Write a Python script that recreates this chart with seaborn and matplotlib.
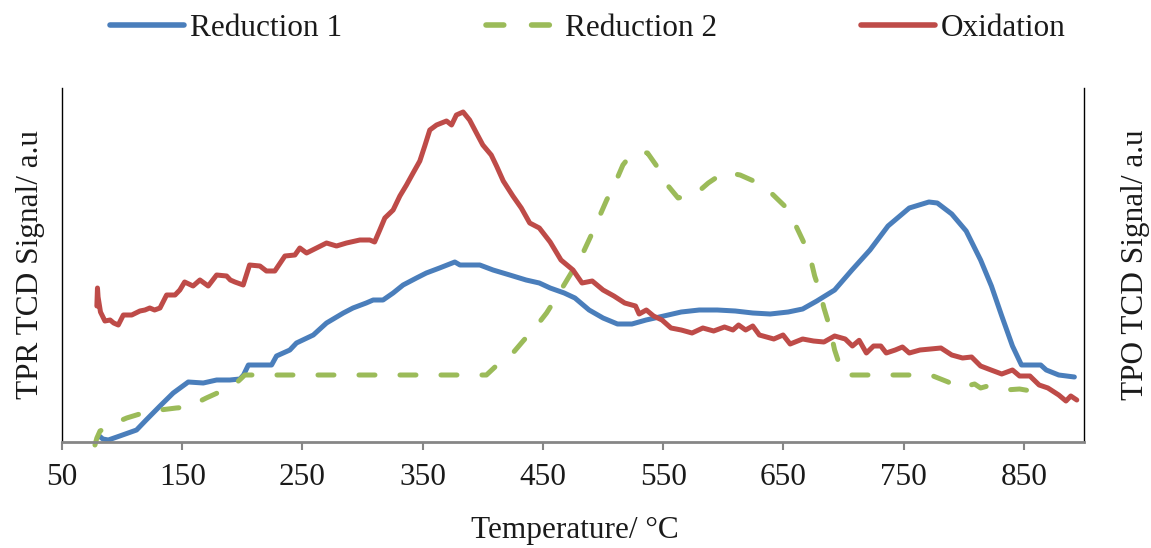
import matplotlib
matplotlib.use("Agg")
import matplotlib.pyplot as plt
import pandas as pd
import seaborn as sns

# Temperature (°C) and TCD signal (a.u.) for each run
red1_temp = [81, 84, 88.5, 98, 112, 120, 131.5, 142.5, 155, 167.5, 178.6, 189.6, 198, 201, 205,
             224.3, 228.4, 239.5, 245, 259, 270, 284, 292, 303, 308.8, 317, 325.4, 333.7, 344.8,
             353, 364, 376.7, 381, 397.5, 408.5, 422.4, 436, 447, 456, 467.7, 476.6, 488.4, 500,
             512, 524, 535.8, 550.5, 565, 580, 595, 610, 624.5, 639, 654, 666, 677.8, 692.6, 707,
             722, 737, 754.7, 771, 778, 790, 802, 814, 823, 831.6, 840.5, 848, 864, 868.6, 879, 892]
red1_signal = [6, 3, 2, 6, 12, 22, 36, 49, 60, 59, 62, 62, 63, 67, 77,
               77, 86, 92, 99, 107, 119, 129, 134, 139, 142, 142, 149, 157, 164,
               169, 174, 180, 177, 177, 172, 167, 162, 159, 154, 149, 144, 132, 124,
               118, 118, 122, 126, 130, 132, 132, 131, 129, 128, 130, 133, 141, 152, 172,
               192, 216, 234, 240, 239, 228, 211, 182, 156, 126, 96, 77, 77, 72, 67, 65]

red2_temp = [77.4, 79, 81.6, 94, 103.8, 120, 131.5, 145, 155, 170, 181, 195, 202, 210, 300,
             386, 403, 411, 425, 433.5, 444.6, 453, 464, 482.5, 491, 503, 509, 516.5, 522.4,
             530, 537, 544.6, 553.5, 562.4, 577, 587.5, 601, 614, 629, 639, 651, 658.5, 666,
             672, 676, 680.7, 683.7, 688, 692.6, 697, 700, 772.4, 787, 796, 809, 814, 820,
             834.6, 846.4, 861, 872]
red2_signal = [-3, 4, 11, 19, 24, 30, 32, 34, 35, 44, 50, 59, 67, 67, 67,
               67, 67, 76, 89, 101, 116, 129, 150, 187, 209, 242, 256, 277, 286,
               290, 289, 276, 257, 244, 248, 259, 270, 267, 259, 250, 236, 221, 202,
               186, 166, 149, 134, 117, 92, 76, 67, 67, 60, 54, 58, 54, 56,
               52, 53, 50, 46]

ox_temp = [79, 79.5, 80, 82, 85.7, 90, 93, 96.8, 101, 108, 114.8, 119, 123, 127, 131.5, 137,
           144, 148, 152, 159, 164.7, 171.6, 178.6, 186.9, 190, 193.8, 200.7, 206, 214.6, 220,
           227, 235.4, 243.7, 247.8, 253.4, 261.7, 270, 278.3, 286.6, 297.7, 306, 310, 314.3,
           318.5, 325.4, 331, 336.5, 342, 347.6, 351.7, 355.9, 361.5, 369.8, 374, 378, 383.6,
           389, 394.7, 400, 407, 411.4, 417, 425, 432, 439, 447, 456, 465, 475, 482.5, 491,
           500, 509, 518, 527, 530, 536, 542, 549, 556.5, 565, 574, 583, 592, 601, 608, 612.7,
           618.6, 624.5, 630, 642, 649.7, 655.6, 666, 675, 683.7, 692.6, 701.4, 707.4, 713,
           719, 725, 731, 735.5, 743, 749, 754.7, 763.6, 772.4, 781, 790, 799, 806.5, 814,
           822.7, 831.6, 840.5, 846.4, 855, 862.7, 870, 879, 885, 889, 894]
ox_signal = [136, 154, 145, 130, 121, 122, 119, 117, 127, 127, 131, 132, 134, 132, 134, 147,
             147, 152, 160, 156, 162, 156, 167, 166, 162, 160, 157, 177, 176, 171,
             171, 186, 187, 194, 189, 194, 199, 196, 199, 202, 202, 200, 212,
             224, 232, 246, 257, 269, 281, 296, 312, 317, 321, 317, 327, 330,
             322, 309, 297, 287, 276, 261, 246, 234, 219, 214, 200, 182, 172, 159, 161,
             152, 146, 139, 136, 128, 132, 126, 122, 114, 112, 109, 114, 111, 115, 112, 117,
             112, 116, 107, 103, 107, 98, 103, 101, 100, 106, 103, 96, 101.7,
             89, 96, 96, 89, 92, 95, 89, 92, 93, 94, 87, 84, 85, 76,
             72, 68, 72, 66, 66, 57, 54, 47, 41, 46, 42]

series_names = ["Reduction 1", "Reduction 2", "Oxidation"]
series_colors = ["#4A7EBB", "#9BBB59", "#BE4B48"]
tick_values = list(range(50, 851, 100))

sns.set_style("white")
plt.rcParams["font.family"] = ["Liberation Serif", "DejaVu Serif"]
plt.rcParams["font.size"] = 22.5
text_color = "#1a1a1a"

fig = plt.figure(figsize=(11.51, 5.48), dpi=100)
ax = fig.add_axes([62 / 1151, 106 / 548, 1022 / 1151, 354 / 548])

data = [(red1_temp, red1_signal), (red2_temp, red2_signal), (ox_temp, ox_signal)]
for (t, s), name, color in zip(data, series_names, series_colors):
    df = pd.DataFrame({"Temperature": t, "Signal": s})
    sns.lineplot(data=df, x="Temperature", y="Signal", ax=ax, color=color, lw=3.6,
                 sort=False, estimator=None, label=name, clip_on=False)
    line = ax.lines[-1]
    line.set_solid_capstyle("round")
    line.set_solid_joinstyle("round")
    line.set_dash_capstyle("round")
    if name == "Reduction 2":
        line.set_dashes((3.2, 5.0))

handles, labels = ax.get_legend_handles_labels()
ax.get_legend().remove()
leg = fig.legend(handles, labels, loc="center", bbox_to_anchor=(588 / 1151, 1 - 28 / 548),
                 ncol=3, frameon=False, handlelength=2.35, handletextpad=0.2,
                 columnspacing=4.6, fontsize=22.5)
for txt in leg.get_texts():
    txt.set_color(text_color)
for h in leg.get_lines():
    h.set_linewidth(4)

ax.set_xlim(50, 900)
ax.set_ylim(0, 354)
ax.set_xticks(tick_values)
ax.set_xticklabels([str(v) for v in tick_values])
ax.set_yticks([])
ax.tick_params(axis="x", bottom=True, direction="out", length=6, width=1.5,
               color="#868686", pad=9, labelsize=22.5, labelcolor=text_color)

ax.spines["top"].set_visible(False)
ax.spines["left"].set_color("black")
ax.spines["left"].set_linewidth(1)
ax.spines["right"].set_color("black")
ax.spines["right"].set_linewidth(1)
ax.spines["bottom"].set_color("#868686")
ax.spines["bottom"].set_linewidth(2)

ax.set_xlabel("Temperature/ °C", va="center", color=text_color, fontsize=22.5)
ax.xaxis.set_label_coords(0.502, -0.25)
ax.set_ylabel("TPR TCD Signal/ a.u", va="center", color=text_color, fontsize=22.5)
ax.yaxis.set_label_coords(-0.031, 0.5)

ax2 = ax.twinx()
ax2.set_ylim(0, 354)
ax2.set_yticks([])
for sp in ax2.spines.values():
    sp.set_visible(False)
ax2.set_ylabel("TPO TCD Signal/ a.u", rotation=90, va="center", color=text_color, fontsize=22.5)
ax2.yaxis.set_label_coords(1.05, 0.5)

fig.savefig("out.png", dpi=100)
